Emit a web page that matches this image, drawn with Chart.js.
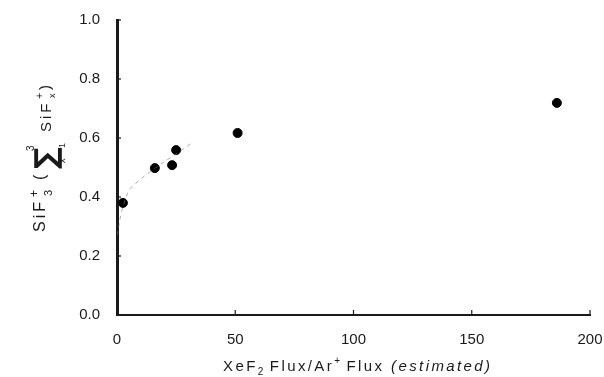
<!DOCTYPE html>
<html>
<head>
<meta charset="utf-8">
<script src="https://cdn.jsdelivr.net/npm/chart.js@4/dist/chart.umd.min.js"></script>
<style>
  html, body { margin: 0; padding: 0; background: #fff; }
  #wrap { width: 604px; height: 377px; }
</style>
</head>
<body>
<div id="wrap"><canvas id="c" width="604" height="377"></canvas></div>
<script>
// measured points (XeF2 flux / Ar+ flux vs SiF3+ fraction)
const fluxRatio = [2.5, 16, 23.3, 25, 51, 186];
const sif3Fraction = [0.38, 0.498, 0.508, 0.559, 0.617, 0.719];

// faint fitted curve fragments visible in the figure
const fitX = [0, 3, 7, 31];
const fitY = [0.27, 0.38, 0.44, 0.58];

const xTicks = [0, 50, 100, 150, 200];
const yTicks = [0, 0.2, 0.4, 0.6, 0.8, 1.0];

const ink = '#1a1a1a';
const fontFam = '"Liberation Sans", Arial, sans-serif';

// inward tick marks, rotated y label with summation, x label
const extras = {
  id: 'extras',
  afterDraw(chart) {
    const ctx = chart.ctx;
    const xs = chart.scales.x, ys = chart.scales.y;
    ctx.save();
    ctx.strokeStyle = ink;
    ctx.lineWidth = 1.2;
    xTicks.forEach(v => {
      const px = xs.getPixelForValue(v);
      ctx.beginPath(); ctx.moveTo(px, ys.bottom); ctx.lineTo(px, ys.bottom - 5); ctx.stroke();
    });
    yTicks.forEach(v => {
      const py = ys.getPixelForValue(v);
      ctx.beginPath(); ctx.moveTo(xs.left, py); ctx.lineTo(xs.left + 4, py); ctx.stroke();
    });

    // y label drawn in a frame rotated -90deg: (tx, ty) -> canvas (ty, -tx)
    ctx.rotate(-Math.PI / 2);
    ctx.fillStyle = ink;
    ctx.textBaseline = 'alphabetic';
    ctx.textAlign = 'left';
    const txt = (s, tx, ty, font, sp) => {
      ctx.font = font;
      ctx.letterSpacing = (sp || 0) + 'px';
      ctx.fillText(s, tx, ty);
    };
    txt('SiF', -232, 45, '16px ' + fontFam, 3);
    txt('+', -197, 38, '12px ' + fontFam);
    txt('3', -196, 52, '11px ' + fontFam);
    txt('(', -180, 45, '16px ' + fontFam);
    txt('\u2211', -169, 56, 'bold 30px "DejaVu Sans"');
    txt('3', -151, 34, '10px ' + fontFam);
    txt('x', -163, 65, '9px ' + fontFam);
    txt('1', -148, 65, '9px ' + fontFam);
    txt('SiF', -132, 51, '15px ' + fontFam, 3);
    txt('+', -99, 43, '11px ' + fontFam);
    txt('x', -98, 55, '9px ' + fontFam);
    txt(')', -90, 50, '15px ' + fontFam);

    // x axis label
    ctx.setTransform(1, 0, 0, 1, 0, 0);
    let lx = 223;
    const ly = 371;
    const put = (s, dy, font, sp) => {
      ctx.font = font;
      ctx.letterSpacing = sp + 'px';
      ctx.fillText(s, lx, ly + dy);
      lx += ctx.measureText(s).width;
    };
    put('XeF', 0, '15px ' + fontFam, 2.4);
    put('2', 4, '10px ' + fontFam, 0);
    put(' Flux/Ar', 0, '15px ' + fontFam, 2.4);
    put('+', -7, '10px ' + fontFam, 0);
    put(' Flux ', 0, '15px ' + fontFam, 2.4);
    put('(estimated)', 0, 'italic 15px ' + fontFam, 2.4);
    ctx.restore();
  }
};

new Chart(document.getElementById('c'), {
  type: 'scatter',
  data: {
    datasets: [
      {
        label: 'fit',
        data: fitX.map((v, i) => ({ x: v, y: fitY[i] })),
        showLine: true,
        borderColor: 'rgba(120,120,120,0.6)',
        borderWidth: 1,
        borderDash: [4, 4],
        pointRadius: 0,
        tension: 0.4
      },
      {
        label: 'SiF3+',
        data: fluxRatio.map((v, i) => ({ x: v, y: sif3Fraction[i] })),
        backgroundColor: '#000',
        borderColor: '#000',
        pointRadius: 4.5,
        pointHoverRadius: 4.5
      }
    ]
  },
  options: {
    responsive: false,
    animation: false,
    devicePixelRatio: 1,
    layout: { padding: { top: 20, right: 14, left: 0, bottom: 0 } },
    plugins: { legend: { display: false }, tooltip: { enabled: false } },
    scales: {
      x: {
        type: 'linear', min: 0, max: 200,
        afterBuildTicks: s => { s.ticks = xTicks.map(v => ({ value: v })); },
        afterFit: s => { s.height = 62; s.paddingLeft = 0; s.paddingRight = 0; },
        grid: { display: false },
        border: { display: true, color: ink, width: 2 },
        ticks: { color: ink, font: { size: 15, family: fontFam }, padding: 8, autoSkip: false, maxRotation: 0 }
      },
      y: {
        type: 'linear', min: 0, max: 1,
        afterBuildTicks: s => { s.ticks = yTicks.map(v => ({ value: v })); },
        afterFit: s => { s.width = 117; s.paddingTop = 0; s.paddingBottom = 0; },
        grid: { display: false },
        border: { display: true, color: ink, width: 3 },
        ticks: { color: ink, font: { size: 15, family: fontFam }, padding: 9, autoSkip: false,
                 callback: v => v.toFixed(1) }
      }
    }
  },
  plugins: [extras]
});
</script>
</body>
</html>
